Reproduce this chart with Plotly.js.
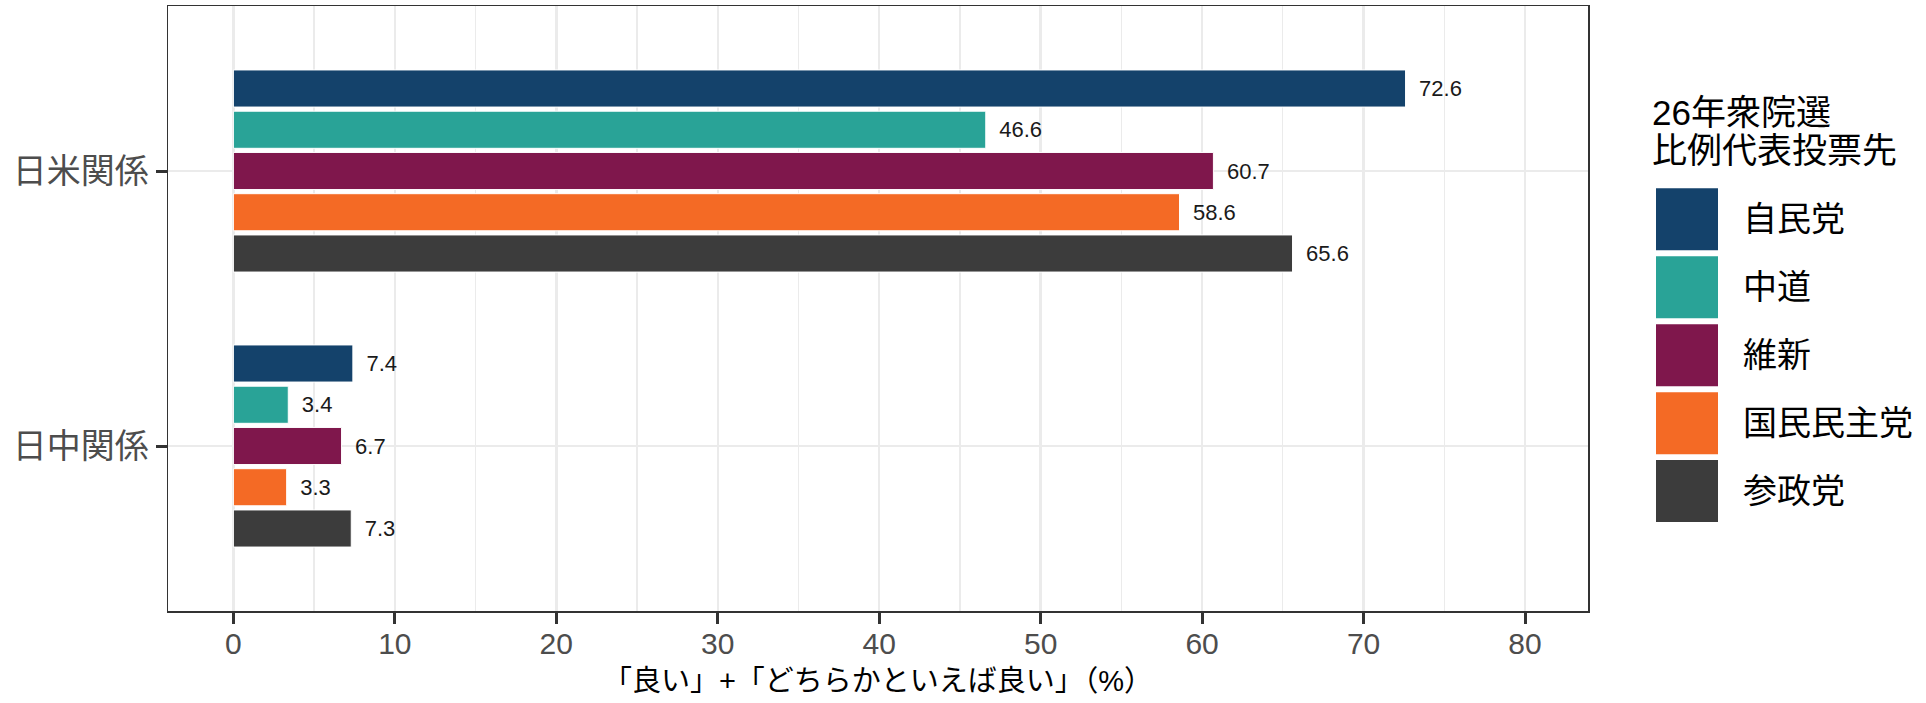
<!DOCTYPE html>
<html>
<head>
<meta charset="utf-8">
<script src="https://cdn.plot.ly/plotly-3.0.1.min.js"></script>
<style>
html,body{margin:0;padding:0;background:#fff;}
#chart{width:1926px;height:703px;}
</style>
</head>
<body>
<div id="chart"></div>
<script>
// ---- data ----
const categories = ['日米関係', '日中関係'];
const parties = ['自民党', '中道', '維新', '国民民主党', '参政党'];
const usJapan = [72.6, 46.6, 60.7, 58.6, 65.6];
const chinaJapan = [7.4, 3.4, 6.7, 3.3, 7.3];
const partyColors = ['#14426B', '#29A397', '#7F174C', '#F46A25', '#3C3C3C'];
const xTickVals = [0, 10, 20, 30, 40, 50, 60, 70, 80];
const legendTitleLines = ['26年衆院選', '比例代表投票先'];
const xAxisTitle = '「良い」+「どちらかといえば良い」（%）';

// ---- layout geometry (pixels) ----
const W = 1926, H = 703;
const L = 168, R = 1588, T = 5.5, B = 611;
const pw = R - L, ph = B - T;
const px = x => (x - L) / pw;
const py = y => (B - y) / ph;

const FONT = 'Liberation Sans, Arial, "Noto Sans CJK JP", sans-serif';

const traces = [];
for (let i = parties.length - 1; i >= 0; i--) {
  traces.push({
    type: 'bar',
    orientation: 'h',
    name: parties[i],
    y: categories,
    x: [usJapan[i], chinaJapan[i]],
    marker: {color: partyColors[i], line: {color: '#ffffff', width: 1}},
    texttemplate: '\u00a0\u2009%{x:.1f}',
    textposition: 'outside',
    textfont: {family: FONT, size: 22, color: '#1a1a1a'},
    cliponaxis: false,
    showlegend: false,
    hoverinfo: 'x+name'
  });
}

const shapes = [];
const annotations = [];
const keyX0 = 1656, keySize = 62, keyTop0 = 188, keyPitch = 68;
parties.forEach((p, i) => {
  const top = keyTop0 + keyPitch * i;
  shapes.push({
    type: 'rect', xref: 'paper', yref: 'paper',
    x0: px(keyX0), x1: px(keyX0 + keySize),
    y0: py(top + keySize), y1: py(top),
    fillcolor: partyColors[i], line: {width: 0}
  });
  annotations.push({
    xref: 'paper', yref: 'paper', x: px(1741), y: py(top + keySize / 2),
    xanchor: 'left', yanchor: 'middle', showarrow: false,
    text: p, font: {family: FONT, size: 34, color: '#000'}
  });
});
const titleY = [111.7, 150];
legendTitleLines.forEach((t, i) => {
  annotations.push({
    xref: 'paper', yref: 'paper', x: px(1650), y: py(titleY[i]),
    xanchor: 'left', yanchor: 'middle', showarrow: false,
    text: t, font: {family: FONT, size: 35, color: '#000'}
  });
});

const layout = {
  width: W, height: H,
  margin: {l: L, r: W - R, t: T, b: H - B, pad: 0},
  paper_bgcolor: '#ffffff',
  plot_bgcolor: '#ffffff',
  barmode: 'group',
  bargap: 0.25,
  bargroupgap: 0.1,
  showlegend: false,
  font: {family: FONT},
  xaxis: {
    range: [-4.05, 83.9],
    tickmode: 'array',
    tickvals: xTickVals,
    ticktext: xTickVals.map(String),
    ticks: 'outside', ticklen: 11, tickwidth: 3, tickcolor: '#333333',
    tickfont: {family: FONT, size: 30, color: '#4D4D4D'},
    ticklabelstandoff: -6,
    showgrid: true, gridcolor: '#EBEBEB', gridwidth: 2.5,
    minor: {dtick: 5, tick0: 0, showgrid: true, gridcolor: '#EBEBEB', gridwidth: 1.3},
    zeroline: false,
    showline: true, linecolor: '#333333', linewidth: 1.5, mirror: true,
    title: {text: xAxisTitle, font: {family: FONT, size: 29, color: '#000'}, standoff: 12},
    automargin: false
  },
  yaxis: {
    type: 'category',
    categoryorder: 'array',
    categoryarray: categories.slice().reverse(),
    range: [-0.6, 1.6],
    ticks: 'outside', ticklen: 11, tickwidth: 3, tickcolor: '#333333',
    tickfont: {family: FONT, size: 34, color: '#4D4D4D'},
    ticklabelstandoff: 0,
    showgrid: true, gridcolor: '#EBEBEB', gridwidth: 2.5,
    zeroline: false,
    showline: true, linecolor: '#333333', linewidth: 1.5, mirror: true,
    automargin: false
  },
  shapes: shapes,
  annotations: annotations
};

Plotly.newPlot('chart', traces, layout, {displayModeBar: false, staticPlot: true});
</script>
</body>
</html>
